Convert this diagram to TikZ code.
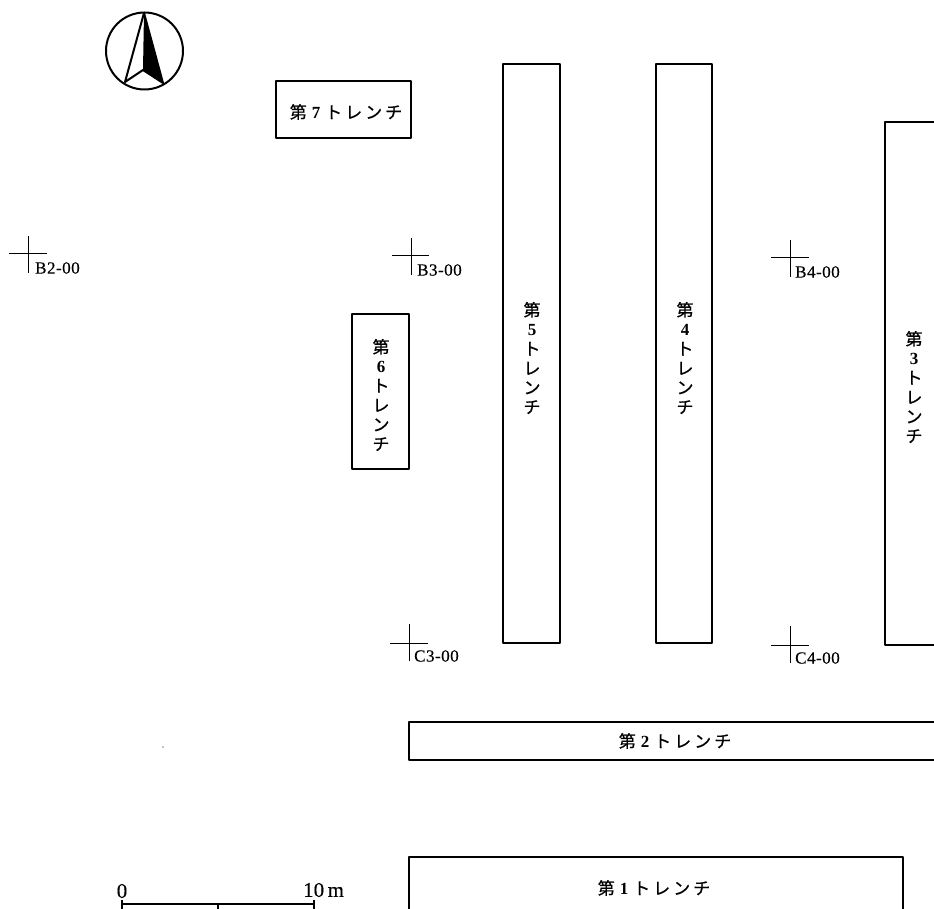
\documentclass[tikz,border=0pt]{standalone}
\usepackage{fontspec}
\setmainfont{Liberation Serif}
\newfontfamily\cjk[FakeBold=0.6]{Noto Sans CJK JP}
\newfontfamily\grid[FakeBold=0.35,LetterSpace=3,FakeStretch=1.0]{Liberation Serif}
\newfontfamily\scalefont[FakeBold=0.3]{Liberation Serif}
\newcommand{\hlab}[1]{{\cjk 第}\hspace{5pt}{\bfseries #1}\hspace{5pt}{\cjk ト\hspace{3pt}レ\hspace{3pt}ン\hspace{3pt}チ}}
\newcommand{\vlab}[1]{{\cjk 第}\\{\bfseries\fontsize{17}{19.4}\selectfont #1}\\{\cjk ト}\\{\cjk レ}\\{\cjk ン}\\{\cjk チ}}
\tikzset{
  trench/.style={draw=black,line width=1.8pt,line join=round,fill=white},
  hlabel/.style={font=\fontsize{17}{18}\selectfont,inner sep=0pt},
  vlabel/.style={font=\fontsize{17}{19.4}\selectfont,align=center,inner sep=0pt},
  crossline/.style={draw=black,line width=1pt},
  gridlabel/.style={font=\grid\fontsize{17}{18}\selectfont,anchor=west,inner sep=0pt},
  compass/.style={draw=black,line width=2pt,line join=round},
  scaleline/.style={draw=black,line width=1.3pt},
  scalelabel/.style={font=\scalefont\fontsize{21}{22}\selectfont,inner sep=0pt}
}
\begin{document}
\begin{tikzpicture}[x=1pt,y=-1pt]
\useasboundingbox (0,0) rectangle (934,909);
\clip (0,0) rectangle (934,909);
% compass
\draw[compass] (144.5,51) circle (38.5);
\draw[compass] (144,13) -- (125,82) -- (143,70) -- (163,83) -- cycle;
\fill[black] (144,13) -- (143,70) -- (163,83) -- cycle;
% trenches
\draw[trench] (276,81) rectangle (411,138);
\draw[trench] (503,64) rectangle (560,643);
\draw[trench] (656,64) rectangle (712,643);
\draw[trench] (885,122) rectangle (945,645);
\draw[trench] (352,314) rectangle (409,469);
\draw[trench] (409,722) rectangle (945,760);
\draw[trench] (409,857) rectangle (903,925);
% trench labels
\node[hlabel] (t7) at (346,112) {\hlab{7}};
\node[hlabel] (t2) at (675,741) {\hlab{2}};
\node[hlabel] (t1) at (654,888) {\hlab{1}};
\node[vlabel] (t5) at (532,358) {\vlab{5}};
\node[vlabel] (t4) at (685,358) {\vlab{4}};
\node[vlabel] (t3) at (914,387) {\vlab{3}};
\node[vlabel] (t6) at (381,395) {\vlab{6}};
% grid crosses
\draw[crossline] (9,254) -- (47,254) (28.5,236) -- (28.5,273);
\node[gridlabel] (b2) at (35,268) {B2-00};
\draw[crossline] (392,256) -- (429,256) (411,238) -- (411,275);
\node[gridlabel] (b3) at (417,270) {B3-00};
\draw[crossline] (771,258) -- (809,258) (790,240) -- (790,277);
\node[gridlabel] (b4) at (795,272) {B4-00};
\draw[crossline] (390,643) -- (428,643) (409,624) -- (409,661);
\node[gridlabel] (c3) at (414,656) {C3-00};
\draw[crossline] (771,645) -- (809,645) (790,626) -- (790,663);
\node[gridlabel] (c4) at (795,658) {C4-00};
% scale
\draw[scaleline] (122,904) -- (314,904) (122,900) -- (122,912) (314,900) -- (314,912) (218,904) -- (218,912);
\node[scalelabel] (s0) at (122,891) {0};
\node[scalelabel,anchor=west] (s10) at (303,890) {10\,m};
\fill[black] (163,747) circle (0.7);
\end{tikzpicture}
\end{document}
